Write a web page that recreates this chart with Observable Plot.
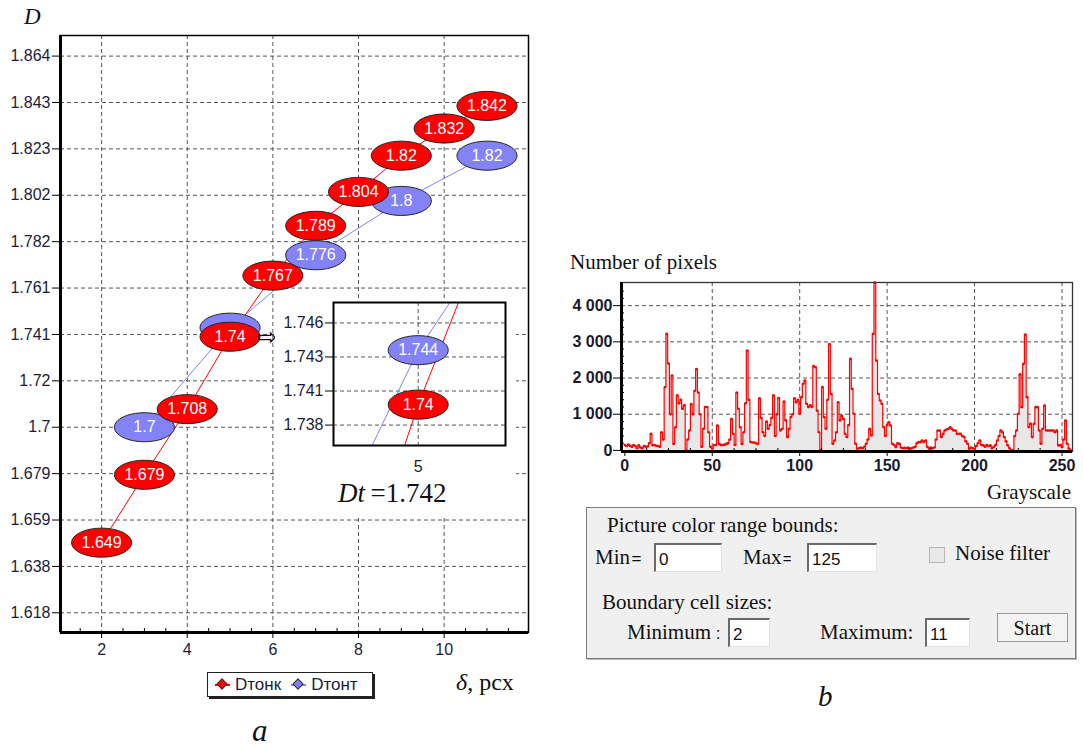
<!DOCTYPE html>
<html><head><meta charset="utf-8">
<script src="https://cdn.jsdelivr.net/npm/d3@7"></script>
<script src="https://cdn.jsdelivr.net/npm/@observablehq/plot@0.6"></script>
<style>
body{margin:0;background:#fff;width:1083px;height:747px;position:relative;overflow:hidden;font-family:"Liberation Sans",Arial,sans-serif;color:#1c1c3a;}
.abs{position:absolute;line-height:1;white-space:nowrap;}
.serif{font-family:"Liberation Serif","Times New Roman",serif;color:#111;}
.inp{position:absolute;background:#fff;border-top:2px solid #6a6a6a;border-left:2px solid #6a6a6a;border-bottom:1px solid #e4e4e4;border-right:1px solid #e4e4e4;box-sizing:border-box;font-family:"Liberation Sans",Arial,sans-serif;font-size:17px;color:#111;padding:5px 0 0 3px;}
.sw{position:relative;display:inline-block;width:15px;height:2px;background:var(--c);margin:0 5px 0 7px;vertical-align:middle;}
.sw::after{content:"";position:absolute;left:3px;top:-4px;width:8px;height:8px;background:var(--c);border:1px solid #333;transform:rotate(45deg);box-sizing:border-box;}
</style></head><body>
<div id="main" class="abs" style="left:0;top:0"></div>
<div id="inset" class="abs" style="left:275px;top:300px"></div>
<div id="hist" class="abs" style="left:560px;top:270px"></div>

<div class="abs serif" style="left:24px;top:5px;font-size:23px;font-style:italic;">D</div>
<div class="abs serif" style="left:338px;top:480px;font-size:27px;"><i>Dt</i>&#8201;=1.742</div>
<div class="abs" style="left:207px;top:672px;width:166px;height:25px;border:1px solid #222;box-shadow:2px 2px 0 #222;background:#fff;display:flex;align-items:center;font-size:17px;color:#1c1c3a;box-sizing:border-box;">
<span class="sw" style="--c:#f00"></span><span>Dтонк</span><span class="sw" style="--c:#8080ff;margin-left:10px"></span><span>Dтонт</span></div>
<div class="abs serif" style="left:456px;top:670px;font-size:24px;"><i>δ</i>, pcx</div>
<div class="abs serif" style="left:252px;top:715px;font-size:31px;font-style:italic;">a</div>

<div class="abs serif" style="left:570px;top:252px;font-size:21px;">Number of pixels</div>
<div class="abs serif" style="left:987px;top:482px;font-size:21px;">Grayscale</div>

<div class="abs" style="left:586px;top:507px;width:490px;height:152px;background:#f0f0f0;border:1px solid #7a7a7a;box-shadow:1px 1px 0 #bbb;box-sizing:border-box;"></div>
<div class="abs serif" style="left:607px;top:515px;font-size:21px;">Picture color range bounds:</div>
<div class="abs serif" style="left:595px;top:547px;font-size:21px;">Min<span style="font-family:'Liberation Sans',Arial;font-size:17px">&#8202;=</span></div>
<div class="inp" style="left:654px;top:543px;width:68px;height:29px;">0</div>
<div class="abs serif" style="left:743px;top:547px;font-size:21px;">Max<span style="font-family:'Liberation Sans',Arial;font-size:15px">&#8202;= </span></div>
<div class="inp" style="left:807px;top:543px;width:70px;height:29px;">125</div>
<div class="abs" style="left:929px;top:547px;width:16px;height:16px;border:1px solid #b5b5b5;background:#e9e9e9;box-sizing:border-box;"></div>
<div class="abs serif" style="left:955px;top:543px;font-size:21px;">Noise filter</div>
<div class="abs serif" style="left:602px;top:592px;font-size:21px;">Boundary cell sizes:</div>
<div class="abs serif" style="left:627px;top:622px;font-size:21px;">Minimum<span style="font-family:'Liberation Sans',Arial;font-size:17px"> :</span></div>
<div class="inp" style="left:728px;top:618px;width:42px;height:29px;">2</div>
<div class="abs serif" style="left:820px;top:622px;font-size:21px;">Maximum:</div>
<div class="inp" style="left:925px;top:618px;width:45px;height:29px;">11</div>
<div class="abs serif" style="left:997px;top:613px;width:71px;height:29px;border:1px solid #9a9a9a;background:#f3f3f3;box-sizing:border-box;font-size:20px;text-align:center;padding-top:4px;">Start</div>
<div class="abs serif" style="left:818px;top:682px;font-size:29px;font-style:italic;">b</div>

<script>
// ---------- data: panel a ----------
const deltaThin = [2, 3, 4, 5, 6, 7, 8, 9, 10, 11];
const dThin = [1.649, 1.679, 1.708, 1.74, 1.767, 1.789, 1.804, 1.82, 1.832, 1.842]; // Dтонк
const deltaThick = [3, 5, 7, 9, 11];
const dThick = [1.7, 1.744, 1.776, 1.8, 1.82]; // Dтонт
const xTickValues = [2, 4, 6, 8, 10];
const xMinorTicks = [1.5, 2.5, 3, 3.5, 4.5, 5, 5.5, 6.5, 7, 7.5, 8.5, 9, 9.5, 10.5, 11, 11.5];
const yTickValues = [1.618, 1.6385, 1.659, 1.6795, 1.7, 1.7205, 1.741, 1.7615, 1.782, 1.8025, 1.823, 1.8435, 1.864];
const yTickLabels = ["1.618", "1.638", "1.659", "1.679", "1.7", "1.72", "1.741", "1.761", "1.782", "1.802", "1.823", "1.843", "1.864"];
const insetXTicks = [5];
const insetYTicks = [1.7385, 1.741, 1.7435, 1.746];
const insetYLabels = ["1.738", "1.741", "1.743", "1.746"];

// ---------- data: panel b ----------
const pixelCounts = [
150,120,160,130,100,150,120,60,140,80,
60,120,100,110,200,460,140,150,130,120,
100,500,300,1750,3220,2400,1000,2070,180,640,
1520,1300,1400,1150,1250,0,300,550,1280,1000,
1650,2250,1600,1000,100,600,1200,1200,500,100,
50,150,150,690,180,150,150,160,180,200,
300,870,460,150,1600,1150,640,180,500,1300,
2760,1400,230,220,220,200,180,1440,900,500,
400,800,600,700,900,1520,400,1000,1450,550,
600,1350,830,370,600,920,1000,1440,1330,1400,
1010,1470,1840,1930,1290,1200,1250,1200,2330,2300,
1100,500,0,1750,920,600,1400,2940,1560,184,
276,500,1330,830,960,870,460,370,700,2530,
1700,1010,184,46,60,80,60,100,184,300,
600,414,3220,4640,2480,1560,1380,1290,644,400,
700,780,690,184,150,92,200,180,80,60,
70,60,80,50,60,80,100,200,230,230,
276,230,276,100,50,80,60,80,300,550,
550,368,460,552,580,600,640,600,552,552,
460,460,460,400,368,250,184,46,80,60,
46,120,200,276,150,138,100,150,120,138,
60,100,150,276,400,552,500,368,250,138,
60,0,0,400,552,1012,2100,1196,2392,3200,
1472,644,740,368,736,1196,1196,552,184,600,
1242,552,552,552,552,552,500,552,138,150,
92,300,828,184,50,0];
const histXTicks = [0, 50, 100, 150, 200, 250];
const histXMinor = [12.5, 25, 37.5, 62.5, 75, 87.5, 112.5, 125, 137.5, 162.5, 175, 187.5, 212.5, 225, 237.5];
const histYTicks = [0, 1000, 2000, 3000, 4000];
const histYLabels = ["0", "1 000", "2 000", "3 000", "4 000"];
const histYMinor = [200, 400, 600, 800, 1200, 1400, 1600, 1800, 2200, 2400, 2600, 2800, 3200, 3400, 3600, 3800, 4200, 4400];

// ---------- helpers ----------
const ellipse = {
  draw(ctx, size) {
    const r = Math.sqrt(size / Math.PI), rx = r * 2.07, ry = r, k = 0.5523;
    ctx.moveTo(rx, 0);
    ctx.bezierCurveTo(rx, ry * k, rx * k, ry, 0, ry);
    ctx.bezierCurveTo(-rx * k, ry, -rx, ry * k, -rx, 0);
    ctx.bezierCurveTo(-rx, -ry * k, -rx * k, -ry, 0, -ry);
    ctx.bezierCurveTo(rx * k, -ry, rx, -ry * k, rx, 0);
    ctx.closePath();
  }
};
const RED = "#ff0000", BLUE = "#8383f7";
const thin = deltaThin.map((x, i) => ({x, y: dThin[i]}));
const thick = deltaThick.map((x, i) => ({x, y: dThick[i]}));
// in the main panel the blue 1.744 label sits under the red 1.74 one; its text shows in the inset
const thickVisible = thick.filter(d => d.x !== 5);
const yLab = new Map(yTickValues.map((v, i) => [v, yTickLabels[i]]));
const iLab = new Map(insetYTicks.map((v, i) => [v, insetYLabels[i]]));
const hLab = new Map(histYTicks.map((v, i) => [v, histYLabels[i]]));
const grid = {stroke: "#555", strokeOpacity: 1, strokeDasharray: "4,3", strokeWidth: 1};
const font = "'Liberation Sans', Arial, sans-serif";

// ---------- main chart ----------
const xDom = [1.04, 11.97], yDom = [1.6093, 1.8731];
const main = Plot.plot({
  width: 540, height: 670, marginLeft: 60, marginRight: 12, marginTop: 35, marginBottom: 38,
  style: {fontFamily: font, fontSize: "16px", color: "#1c1c3a", background: "transparent", overflow: "visible"},
  x: {domain: xDom, label: null},
  y: {domain: yDom, label: null},
  marks: [
    Plot.gridX(xTickValues, grid),
    Plot.gridY(yTickValues, grid),
    Plot.axisX(xTickValues, {tickSize: 6, tickPadding: 5, tickFormat: d => String(d), stroke: "black", fontSize: 16}),
    Plot.axisX(xMinorTicks, {tickSize: -4, tickFormat: () => "", stroke: "black"}),
    Plot.axisY(yTickValues, {tickSize: 8, tickPadding: 2, tickFormat: d => yLab.get(d), stroke: "black", fontSize: 16}),
    Plot.line(thick, {x: "x", y: "y", stroke: BLUE, strokeWidth: 1}),
    Plot.line(thin, {x: "x", y: "y", stroke: RED, strokeWidth: 1}),
    Plot.dot(thick, {x: "x", y: "y", symbol: ellipse, r: 14.5, fill: BLUE, stroke: "#222", strokeWidth: 1}),
    Plot.text(thickVisible, {x: "x", y: "y", text: d => String(d.y), fill: "white", fontSize: 16}),
    Plot.dot(thin, {x: "x", y: "y", symbol: ellipse, r: 14.5, fill: RED, stroke: "#222", strokeWidth: 1}),
    Plot.text(thin, {x: "x", y: "y", text: d => String(d.y), fill: "white", fontSize: 16}),
    Plot.text([thin[3]], {x: "x", y: "y", text: () => "⇨", dx: 37, dy: 1, fontSize: 24, fill: "#111", fontFamily: "DejaVu Sans"}),
    Plot.frame({stroke: "black", strokeWidth: 1.5}),
    Plot.ruleX([xDom[0]], {stroke: "black", strokeWidth: 3}),
    Plot.ruleY([yDom[0]], {stroke: "black", strokeWidth: 3})
  ]
});
document.getElementById("main").append(main);

// ---------- inset ----------
const inset = Plot.plot({
  width: 241, height: 217, marginLeft: 58, marginRight: 11, marginTop: 2, marginBottom: 72,
  style: {fontFamily: font, fontSize: "16px", color: "#1c1c3a", background: "white", overflow: "visible"},
  x: {domain: [4.416, 5.602], label: null},
  y: {domain: [1.737, 1.7475], label: null},
  marks: [
    Plot.gridX(insetXTicks, grid),
    Plot.gridY(insetYTicks, grid),
    Plot.axisX(insetXTicks, {tickSize: 0, tickPadding: 15, tickFormat: d => String(d), fontSize: 16}),
    Plot.axisY(insetYTicks, {tickSize: 8, tickPadding: 2, tickFormat: d => iLab.get(d), stroke: "black", fontSize: 16}),
    Plot.line(thick, {x: "x", y: "y", stroke: BLUE, strokeWidth: 1, clip: true}),
    Plot.line(thin, {x: "x", y: "y", stroke: RED, strokeWidth: 1, clip: true}),
    Plot.dot([thick[1]], {x: "x", y: "y", symbol: ellipse, r: 14.5, fill: BLUE, stroke: "#222", strokeWidth: 1}),
    Plot.text([thick[1]], {x: "x", y: "y", text: d => String(d.y), fill: "white", fontSize: 16}),
    Plot.dot([thin[3]], {x: "x", y: "y", symbol: ellipse, r: 14.5, fill: RED, stroke: "#222", strokeWidth: 1}),
    Plot.text([thin[3]], {x: "x", y: "y", text: d => String(d.y), fill: "white", fontSize: 16}),
    Plot.frame({stroke: "black", strokeWidth: 2})
  ]
});
document.getElementById("inset").append(inset);

// ---------- histogram ----------
const hist = pixelCounts.map((n, g) => ({g, n}));
const hxDom = [-1.9, 256], hyDom = [-30, 4640];
const histPlot = Plot.plot({
  width: 523, height: 220, marginLeft: 61, marginRight: 11, marginTop: 12, marginBottom: 39,
  style: {fontFamily: font, fontSize: "16px", color: "#1a1a2e", background: "transparent", overflow: "visible"},
  x: {domain: hxDom, label: null},
  y: {domain: hyDom, label: null},
  marks: [
    Plot.gridX(histXTicks.slice(1), grid),
    Plot.gridY(histYTicks.slice(1), grid),
    Plot.areaY(hist, {x: "g", y: "n", curve: "step", fill: "#e8e8e8"}),
    Plot.lineY(hist, {x: "g", y: "n", curve: "step", stroke: RED, strokeWidth: 1.2}),
    Plot.dot(hist, {x: "g", y: "n", r: 1.3, fill: RED}),
    Plot.axisX(histXTicks, {tickSize: 5, tickPadding: 3, tickFormat: d => String(d), fontWeight: "bold", stroke: "black"}),
    Plot.axisX(histXMinor, {tickSize: -3, tickFormat: () => "", stroke: "black"}),
    Plot.axisY(histYTicks, {tickSize: 8, tickPadding: 1, tickFormat: d => hLab.get(d), fontWeight: "bold", stroke: "black"}),
    Plot.axisY(histYMinor, {tickSize: -3, tickFormat: () => "", stroke: "black"}),
    Plot.frame({stroke: "#333", strokeWidth: 1.3}),
    Plot.ruleX([hxDom[0]], {stroke: "black", strokeWidth: 3}),
    Plot.ruleY([hyDom[0]], {stroke: "black", strokeWidth: 3})
  ]
});
document.getElementById("hist").append(histPlot);
</script>
</body></html>
